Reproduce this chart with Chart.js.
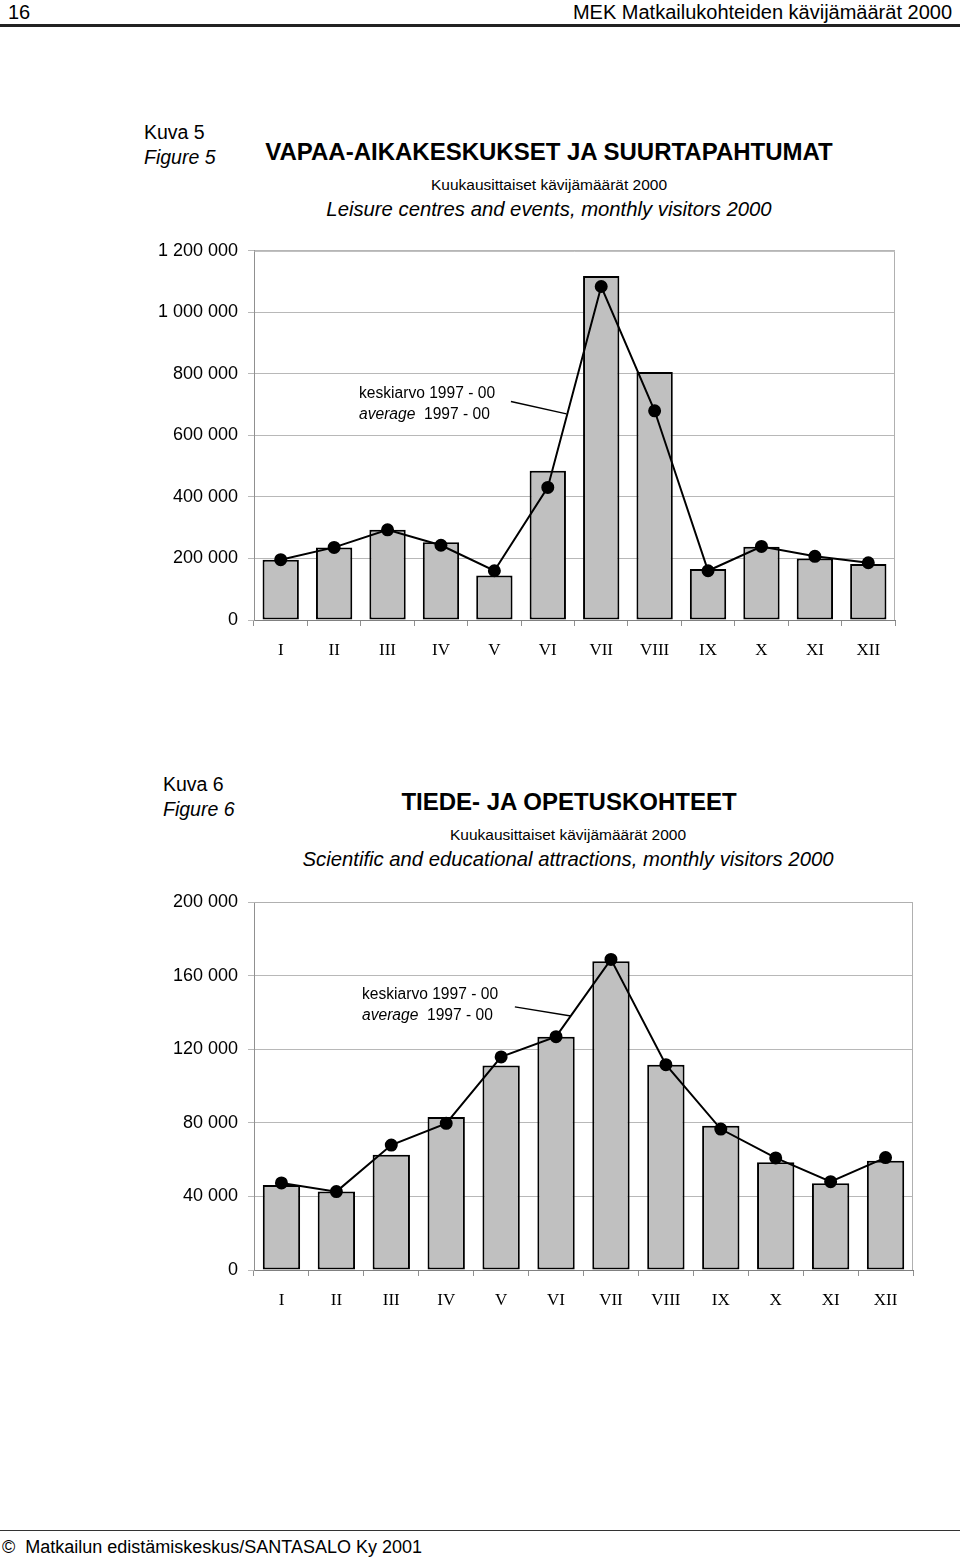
<!DOCTYPE html>
<html>
<head>
<meta charset="utf-8">
<script src="https://cdn.jsdelivr.net/npm/chart.js@4/dist/chart.umd.min.js"></script>
<style>
  body { margin: 0; width: 960px; height: 1558px; position: relative; background: #fff;
         font-family: "Liberation Sans", Arial, sans-serif; color: #000; overflow: hidden; }
  .abs { position: absolute; white-space: nowrap; line-height: 1; }
  .ctr { transform: translateX(-50%); }
  .box { position: absolute; left: 0; width: 960px; }
</style>
</head>
<body>
<!-- page header -->
<div class="abs" style="left:8px;top:2px;font-size:20px;">16</div>
<div class="abs" style="right:8px;top:2px;font-size:20px;">MEK Matkailukohteiden kävijämäärät 2000</div>
<div class="abs" style="left:0;top:24px;width:960px;height:3px;background:#222;"></div>

<!-- figure 5 -->
<div class="abs" style="left:144px;top:123px;font-size:19.5px;">Kuva 5</div>
<div class="abs" style="left:144px;top:148px;font-size:19.5px;font-style:italic;">Figure 5</div>
<div class="abs ctr" style="left:549px;top:140px;font-size:24px;font-weight:bold;">VAPAA-AIKAKESKUKSET JA SUURTAPAHTUMAT</div>
<div class="abs ctr" style="left:549px;top:177px;font-size:15.5px;">Kuukausittaiset kävijämäärät 2000</div>
<div class="abs ctr" style="left:549px;top:199px;font-size:20.3px;font-style:italic;">Leisure centres and events, monthly visitors 2000</div>
<div class="box" style="top:230px;height:440px;"><canvas id="chart1"></canvas></div>
<div class="abs" style="left:359px;top:385px;font-size:15.6px;">keskiarvo 1997 - 00</div>
<div class="abs" style="left:359px;top:406px;font-size:15.6px;"><i>average</i>&nbsp; 1997 - 00</div>

<!-- figure 6 -->
<div class="abs" style="left:163px;top:775px;font-size:19.5px;">Kuva 6</div>
<div class="abs" style="left:163px;top:800px;font-size:19.5px;font-style:italic;">Figure 6</div>
<div class="abs ctr" style="left:569px;top:790px;font-size:24px;font-weight:bold;">TIEDE- JA OPETUSKOHTEET</div>
<div class="abs ctr" style="left:568px;top:827px;font-size:15.5px;">Kuukausittaiset kävijämäärät 2000</div>
<div class="abs ctr" style="left:568px;top:849px;font-size:20.3px;font-style:italic;">Scientific and educational attractions, monthly visitors 2000</div>
<div class="box" style="top:880px;height:450px;"><canvas id="chart2"></canvas></div>
<div class="abs" style="left:362px;top:986px;font-size:15.6px;">keskiarvo 1997 - 00</div>
<div class="abs" style="left:362px;top:1007px;font-size:15.6px;"><i>average</i>&nbsp; 1997 - 00</div>

<!-- footer -->
<div class="abs" style="left:0;top:1530px;width:960px;height:1px;background:#333;"></div>
<div class="abs" style="left:2px;top:1538px;font-size:18px;">©&nbsp; Matkailun edistämiskeskus/SANTASALO Ky 2001</div>

<script>
// months (roman numerals)
const months = ['I', 'II', 'III', 'IV', 'V', 'VI', 'VII', 'VIII', 'IX', 'X', 'XI', 'XII'];

// Kuva 5: leisure centres and events
const leisure2000 = [196000, 236000, 293000, 253000, 145000, 485000, 1118000, 806000, 166000, 238000, 200000, 182000];
const leisureAvg = [196000, 236000, 293000, 243000, 160000, 431000, 1084000, 680000, 160000, 239000, 207000, 186000];
const leisureTicks = [0, 200000, 400000, 600000, 800000, 1000000, 1200000];

// Kuva 6: scientific and educational attractions
const science2000 = [46200, 42600, 62700, 83200, 111200, 126800, 167800, 111600, 78400, 58500, 47100, 59400];
const scienceAvg = [47300, 42600, 67900, 79700, 115800, 126800, 168800, 111600, 76600, 60900, 48000, 61100];
const scienceTicks = [0, 40000, 80000, 120000, 160000, 200000];

const fmt = v => String(v).replace(/\B(?=(\d{3})+(?!\d))/g, ' ');

// frame on top/right of plot area + leader line to the average series
const framePlugin = {
  id: 'frame',
  afterDraw(chart, args, opts) {
    const { ctx, chartArea: a, scales } = chart;
    ctx.save();
    ctx.strokeStyle = '#b0b0b0';
    ctx.lineWidth = 1;
    ctx.beginPath();
    ctx.moveTo(a.left, a.top + 0.5);
    ctx.lineTo(a.right - 0.5, a.top + 0.5);
    ctx.lineTo(a.right - 0.5, a.bottom);
    ctx.stroke();
    if (opts.leader) {
      const [f, t] = opts.leader;
      ctx.strokeStyle = '#000';
      ctx.lineWidth = 1.5;
      ctx.beginPath();
      ctx.moveTo(scales.x.getPixelForValue(f[0]), scales.y.getPixelForValue(f[1]));
      ctx.lineTo(scales.x.getPixelForValue(t[0]), scales.y.getPixelForValue(t[1]));
      ctx.stroke();
    }
    ctx.restore();
  }
};

function makeChart(id, bars, avg, ticks, max, pad, leader) {
  return new Chart(document.getElementById(id), {
    type: 'bar',
    data: {
      labels: months,
      datasets: [
        {
          type: 'line',
          data: avg,
          borderColor: '#000',
          borderWidth: 2,
          pointRadius: 5.5,
          pointBackgroundColor: '#000',
          pointBorderColor: '#000',
          tension: 0,
          order: 0
        },
        {
          type: 'bar',
          data: bars,
          backgroundColor: '#c0c0c0',
          borderColor: '#000',
          borderWidth: 2,
          borderSkipped: false,
          categoryPercentage: 1,
          barPercentage: 0.68,
          order: 1
        }
      ]
    },
    options: {
      responsive: true,
      maintainAspectRatio: false,
      animation: false,
      layout: { padding: { top: pad.top, right: pad.right, left: 0, bottom: 0 } },
      plugins: { legend: { display: false }, tooltip: { enabled: false }, frame: { leader } },
      scales: {
        x: {
          offset: true,
          grid: { offset: true, drawOnChartArea: false, drawTicks: true, tickLength: 6, color: '#909090' },
          border: { color: '#808080', width: 1 },
          ticks: { color: '#000', padding: 14, font: { family: '"Liberation Serif", "Times New Roman", serif', size: 17 } },
          afterFit: s => { s.height = pad.bottom; }
        },
        y: {
          min: 0,
          max: max,
          afterBuildTicks: s => { s.ticks = ticks.map(v => ({ value: v })); },
          grid: { color: '#b8b8b8', lineWidth: 1, tickLength: 6 },
          border: { color: '#909090', width: 1 },
          ticks: { color: '#000', padding: 10, callback: v => fmt(v),
                   font: { family: '"Liberation Sans", Arial, sans-serif', size: 18 } },
          afterFit: s => { s.width = 254; }
        }
      }
    },
    plugins: [framePlugin]
  });
}

makeChart('chart1', leisure2000, leisureAvg, leisureTicks, 1200000,
  { top: 20, right: 65, bottom: 50 }, [[4.31, 710000], [5.35, 670000]]);
makeChart('chart2', science2000, scienceAvg, scienceTicks, 200000,
  { top: 22, right: 47, bottom: 60 }, [[4.25, 143000], [5.27, 138000]]);
</script>
</body>
</html>
